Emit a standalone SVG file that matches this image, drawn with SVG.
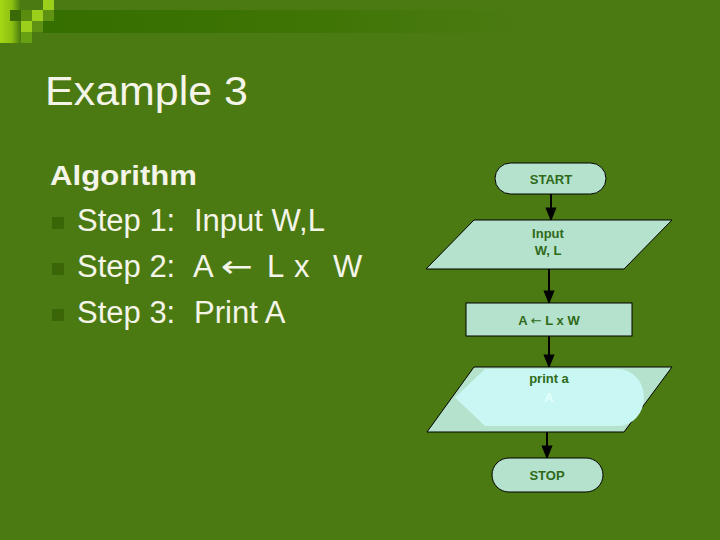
<svg xmlns="http://www.w3.org/2000/svg" width="720" height="540" viewBox="0 0 720 540">
<defs>
<linearGradient id="band" x1="0" y1="0" x2="1" y2="0">
<stop offset="0" stop-color="#356f00"/>
<stop offset="0.5" stop-color="#3f7505"/>
<stop offset="1" stop-color="#4a7a12" stop-opacity="0"/>
</linearGradient>
<linearGradient id="strip" x1="0" y1="0" x2="1" y2="0">
<stop offset="0" stop-color="#a6d816"/>
<stop offset="0.6" stop-color="#8cc010"/>
<stop offset="1" stop-color="#4e8010"/>
</linearGradient>
<marker id="arr" viewBox="0 0 10 10" refX="9" refY="5" markerWidth="7" markerHeight="7" orient="auto">
<path d="M0,1 L10,5 L0,9 z" fill="#000"/>
</marker>
<style>
.shape{fill:#b5e2cc;stroke:#000;stroke-width:1}
.lbl{font-family:"Liberation Sans",Arial,sans-serif;font-size:13px;font-weight:bold;fill:#2f6a1a;text-anchor:middle}
.faint{fill:#e4fffc}
.big{font-family:"Liberation Sans",Arial,sans-serif;fill:#f4f4e8}
.arrowch{font-family:"DejaVu Sans",sans-serif}
.conn{stroke:#000;stroke-width:2;fill:none;marker-end:url(#arr)}
.bullet{fill:#3a6608}
</style>
</defs>
<rect width="720" height="540" fill="#4b7a12"/>
<rect x="43" y="10" width="560" height="23" fill="url(#band)"/>
<rect x="0" y="0" width="20" height="43" fill="url(#strip)"/>
<rect x="10" y="10" width="11" height="11" fill="#3a6a08"/>
<rect x="21" y="10" width="11" height="11" fill="#5a8c10"/>
<rect x="32" y="10" width="11" height="11" fill="#9ccf1c"/>
<rect x="43" y="0" width="11" height="10" fill="#9ccf1c"/>
<rect x="43" y="10" width="11" height="11" fill="#5f9212"/>
<rect x="21" y="21" width="11" height="11" fill="#9ccf1c"/>
<rect x="32" y="21" width="11" height="11" fill="#5f9212"/>
<rect x="21" y="32" width="11" height="11" fill="#68a014"/>
<text class="big" x="45" y="105" font-size="40" textLength="203" lengthAdjust="spacingAndGlyphs">Example 3</text>
<text class="big" x="50" y="185" font-size="27" font-weight="bold" textLength="147" lengthAdjust="spacingAndGlyphs">Algorithm</text>
<rect class="bullet" x="52" y="217" width="12" height="12"/>
<rect class="bullet" x="52" y="263" width="12" height="12"/>
<rect class="bullet" x="52" y="309" width="12" height="12"/>
<text class="big" font-size="31" y="231"><tspan x="77">Step 1:</tspan><tspan x="194">Input W,L</tspan></text>
<text class="big" font-size="31" y="277"><tspan x="77">Step 2:</tspan><tspan x="193">A</tspan><tspan class="arrowch" x="221" textLength="32" lengthAdjust="spacingAndGlyphs">←</tspan><tspan x="267">L</tspan><tspan x="294">x</tspan><tspan x="333">W</tspan></text>
<text class="big" font-size="31" y="323"><tspan x="77">Step 3:</tspan><tspan x="194">Print A</tspan></text>
<g id="connectors">
<line class="conn" x1="551" y1="194" x2="551" y2="220"/>
<line class="conn" x1="549" y1="269" x2="549" y2="303"/>
<line class="conn" x1="549" y1="336" x2="549" y2="367"/>
<line class="conn" x1="547" y1="432" x2="547" y2="458"/>
</g>
<g id="start">
<rect class="shape" x="495" y="163" width="111" height="31" rx="15.5"/>
<text class="lbl" x="551" y="184">START</text>
</g>
<g id="input">
<polygon class="shape" points="474,220 672,220 624,269 426,269"/>
<text class="lbl" x="548" y="238">Input</text>
<text class="lbl" x="548" y="255">W, L</text>
</g>
<g id="process">
<rect class="shape" x="466" y="303" width="166" height="33"/>
<text class="lbl" x="549" y="325">A <tspan class="arrowch" font-weight="normal">←</tspan> L x W</text>
</g>
<g id="print">
<polygon class="shape" points="474,367 672,367 624,432 427,432"/>
<path d="M485,369 L618,369 A26,28.5 0 0 1 618,426 L485,426 L455,397.5 Z" fill="#c9f7f3"/>
<text class="lbl" x="549" y="383">print a</text>
<text class="lbl faint" x="549" y="402">A</text>
</g>
<g id="stop">
<rect class="shape" x="492" y="458" width="111" height="34" rx="17"/>
<text class="lbl" x="547" y="480">STOP</text>
</g>
</svg>
